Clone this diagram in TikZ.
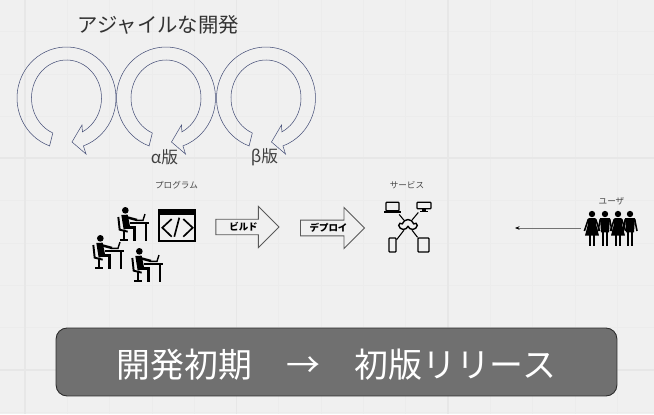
\documentclass[tikz,border=0pt]{standalone}
\usepackage{fontspec}
\setmainfont{Noto Sans CJK JP}
\usepackage{xcolor}
\usetikzlibrary{arrows.meta, positioning, shapes.arrows, shapes.symbols}
\definecolor{board_bg}{RGB}{240, 240, 240}
\definecolor{board_minor}{RGB}{236, 236, 236}
\definecolor{board_grid}{RGB}{231, 231, 231}
\definecolor{loop_line}{RGB}{70, 80, 120}
\definecolor{banner_fill}{RGB}{112, 112, 112}
\definecolor{banner_line}{RGB}{45, 45, 45}
\definecolor{label_grey}{RGB}{70, 70, 70}

\tikzset{
  looparrow/.pic={
    \draw[loop_line, line width=0.3pt]
      (250:49.5 and 51) arc[start angle=250, end angle=-70, x radius=49.5, y radius=51]
      -- (19.5,-56) -- (5.5,-44) -- (15.5,-27)
      -- (-63:35 and 38)
      arc[start angle=-63, end angle=247, x radius=35, y radius=38]
      -- cycle;
  },
  devperson/.pic={
    \begin{scope}[x=0.00667cm, y=-0.00667cm]
      \fill (25,10) circle[radius=10];
      \fill (13,24) -- (32,23) -- (40,62) -- (20,68) -- cycle;
      \draw[line width=1.4pt] (30,31) -- (60,39);
      \draw[line width=1.7pt] (22,62) -- (53,62) -- (53,103);
      \draw[line width=1.1pt] (4,30) -- (8,68) -- (32,74);
      \draw[line width=1.2pt] (22,72) -- (22,96);
      \draw[line width=1.1pt] (10,98) -- (34,98);
      \draw[line width=1.3pt] (40,49) -- (97,49);
      \draw[line width=1.6pt] (87,49) -- (87,103);
      \draw[line width=0.8pt] (58,40) -- (78,40) -- (84,21);
    \end{scope}
  },
  womanfig/.pic={
    \begin{scope}[x=0.00667cm, y=-0.00667cm]
      \fill (0,-45) circle[radius=9.5];
      \fill (-11,-33) -- (11,-33) -- (12,-15) -- (21,20) -- (-21,20) -- (-12,-15) -- cycle;
      \draw[line width=0.9pt] (-11,-30) -- (-23,6);
      \draw[line width=0.9pt] (11,-30) -- (23,6);
      \draw[line width=1.1pt] (-6,15) -- (-6,50);
      \draw[line width=1.1pt] (6,15) -- (6,50);
    \end{scope}
  },
  manfig/.pic={
    \begin{scope}[x=0.00667cm, y=-0.00667cm]
      \fill (0,-45) circle[radius=9.5];
      \fill (-15,-33) -- (15,-33) -- (12,10) -- (-12,10) -- cycle;
      \draw[line width=0.9pt] (-14,-30) -- (-21,6);
      \draw[line width=0.9pt] (14,-30) -- (21,6);
      \draw[line width=1.2pt] (-6,8) -- (-6,50);
      \draw[line width=1.2pt] (6,8) -- (6,50);
    \end{scope}
  },
}

\begin{document}
\begin{tikzpicture}[
    x=0.02cm, y=0.02cm,
    every node/.style={inner sep=0pt},
    buildarrow/.style={single arrow, draw=black!65, fill=board_bg, line width=0.5pt,
                       single arrow head extend=0.16cm, minimum width=0.82cm, font=\fontsize{5.4}{6}\selectfont\bfseries},
    caption/.style={text=label_grey, font=\fontsize{4.9}{6}\selectfont},
    device/.style={draw, line width=0.7pt, rounded corners=0.4pt},
    netlink/.style={line width=0.6pt},
  ]
  \useasboundingbox[fill=board_bg] (0,0) rectangle (654,414);
  \foreach \gk in {0,...,14}
    \draw[board_minor, line width=0.4pt] ({25+42.3*\gk},0) -- ({25+42.3*\gk},414);
  \foreach \gk in {-1,...,8}
    \draw[board_minor, line width=0.4pt] (0,{44+42.3*\gk}) -- (654,{44+42.3*\gk});
  \foreach \gx in {25,236.5,448}
    \draw[board_grid, line width=0.6pt] (\gx,0) -- (\gx,414);
  \foreach \gy in {44,256}
    \draw[board_grid, line width=0.6pt] (0,\gy) -- (654,\gy);

  \node[font=\fontsize{11.6}{13}\selectfont, text=black!80] (title) at (158.5,389) {アジャイルな開発};
  \foreach \cx/\nm in {66.5/loopa, 166/loopb, 266/loopc}
    \pic (\nm) at (\cx,316) {looparrow};
  \node[font=\fontsize{9.5}{11}\selectfont, text=black!75] (alpha) at (164.5,257) {α版};
  \node[font=\fontsize{9.5}{11}\selectfont, text=black!75] (beta)  at (264.5,257) {β版};

  \node[caption] (program) at (176.5,228.5) {プログラム};
  \pic (deva) at (117,207) {devperson};
  \pic (devb) at (92,179) {devperson};
  \pic (devc) at (131,166) {devperson};

  \node[draw, line width=0.7pt, minimum width=0.72cm, minimum height=0.62cm] (codewin) at (177,188.5) {};
  \fill (159,199) rectangle (195,204);
  \draw[line width=0.95pt] (171.7,195) -- (162.3,186.3) -- (171.7,177.3);
  \draw[line width=0.95pt] (179.3,196.3) -- (174.3,177.3);
  \draw[line width=0.95pt] (183.3,195) -- (192.7,186.3) -- (183.3,177.3);

  \node[buildarrow, minimum height=1.26cm] (build)  at (243.5,187) {ビルド};
  \node[buildarrow, minimum height=1.28cm] (deploy) at (328.5,186) {デプロイ};

  \node[caption] (service) at (407,228.5) {サービス};
  \node[cloud, draw, line width=0.8pt, cloud puffs=5, aspect=1.5, minimum width=0.34cm, minimum height=0.22cm] (netcloud) at (408,189) {};
  \node[device, minimum width=0.26cm, minimum height=0.17cm] (laptop)  at (392.5,207.5) {};
  \fill (384,201) rectangle (401,203.5);
  \node[device, minimum width=0.28cm, minimum height=0.13cm] (monitor) at (424,208.5) {};
  \fill (422,205.5) rectangle (426,203.5);
  \fill (420,203.5) rectangle (428,202);
  \node[device, minimum width=0.14cm, minimum height=0.28cm] (phone)   at (392.5,169) {};
  \node[device, minimum width=0.22cm, minimum height=0.28cm] (tablet)  at (423.5,169) {};
  \draw[netlink, shorten >=0.08cm] (netcloud) -- (laptop);
  \draw[netlink, shorten >=0.08cm] (netcloud) -- (monitor);
  \draw[netlink] (netcloud) -- (phone);
  \draw[netlink] (netcloud) -- (tablet);

  \node[caption] (user) at (611.5,213) {ユーザ};
  \pic at (592,185) {womanfig};
  \pic at (605,185) {manfig};
  \pic at (618,185) {womanfig};
  \pic at (630,185) {manfig};
  \coordinate (userfoot) at (581,186);
  \coordinate (usertip) at (515,186);
  \draw[black!55, line width=0.5pt, -{Stealth[black, length=0.09cm, width=0.07cm]}] (userfoot) -- (usertip);

  \node[draw=banner_line, fill=banner_fill, rounded corners=0.22cm, line width=0.5pt,
        minimum width=11.22cm, minimum height=1.36cm, text=white, text height=0.6cm, text depth=0cm,
        font=\fontsize{19.3}{22}\selectfont] (banner) at (336.5,52)
        {開発初期\hspace{1em}→\hspace{1em}初版リリース};
\end{tikzpicture}
\end{document}
